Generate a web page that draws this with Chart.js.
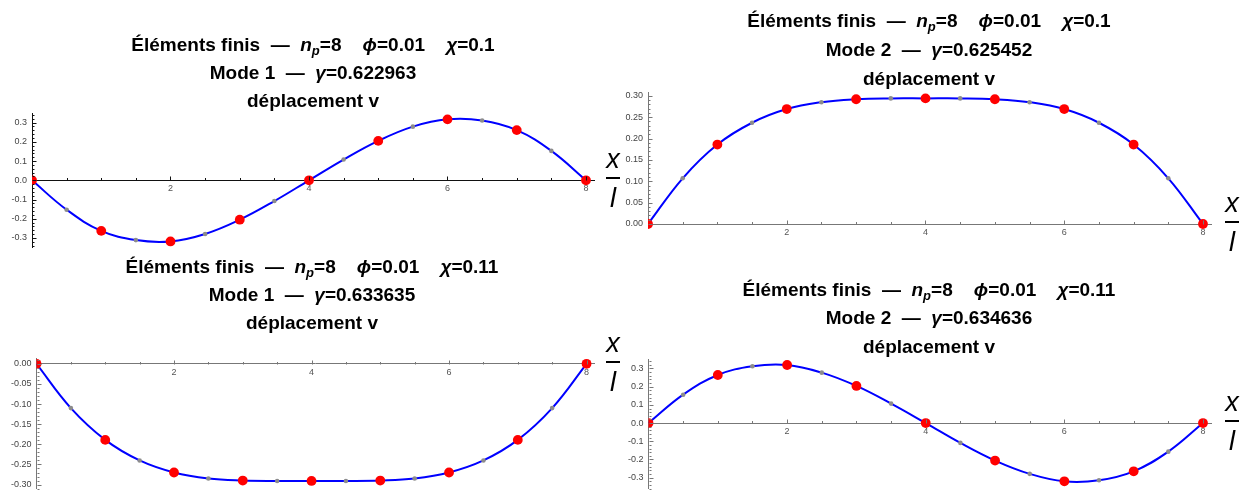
<!DOCTYPE html>
<html>
<head>
<meta charset="utf-8">
<script src="https://cdn.jsdelivr.net/npm/chart.js@4.4.1/dist/chart.umd.min.js"></script>
<style>
body { margin:0; width:1245px; height:499px; overflow:hidden; background:#fff; position:relative; font-family:'Liberation Sans', Arial, sans-serif; }
canvas, .title, .frac { position:absolute; }
.title { width:600px; text-align:center; font-weight:bold; font-size:19px; color:#000; white-space:pre; }
.title sub { font-size:13px; vertical-align:-4px; line-height:0; }
.frac { width:30px; text-align:center; font-style:italic; font-size:27px; color:#000; }
.frac .num { line-height:20px; height:20px; }
.frac .bar { width:14px; height:2px; background:#000; margin:8px auto 8px auto; }
.frac .den { line-height:22px; height:22px; }
</style>
</head>
<body>
<script>
// abscissa of the finite element nodes and of the mid points
var xNodes = [0, 1, 2, 3, 4, 5, 6, 7, 8];
var xMid = [0.5, 1.5, 2.5, 3.5, 4.5, 5.5, 6.5, 7.5];
var xTickLabels = [2, 4, 6, 8];

// chi=0.1, mode 1
var v1Nodes = [0, -0.263, -0.318, -0.205, 0, 0.205, 0.317, 0.261, 0];
var v1Mid = [-0.153, -0.311, -0.279, -0.108, 0.108, 0.279, 0.311, 0.153];
// chi=0.1, mode 2
var v2Nodes = [0, 0.186, 0.269, 0.292, 0.294, 0.292, 0.269, 0.186, 0];
var v2Mid = [0.107, 0.237, 0.285, 0.294, 0.294, 0.285, 0.237, 0.107];
// chi=0.11, mode 1
var v3Nodes = [0, -0.189, -0.270, -0.290, -0.291, -0.290, -0.270, -0.189, 0];
var v3Mid = [-0.110, -0.240, -0.285, -0.291, -0.291, -0.285, -0.240, -0.110];
// chi=0.11, mode 2
var v4Nodes = [0, 0.264, 0.319, 0.204, 0, -0.206, -0.320, -0.265, 0];
var v4Mid = [0.156, 0.312, 0.277, 0.107, -0.109, -0.279, -0.314, -0.157];

var yTicks1 = [-0.3, -0.2, -0.1, 0, 0.1, 0.2, 0.3];
var yTicks2 = [0, 0.05, 0.10, 0.15, 0.20, 0.25, 0.30];
var yTicks3 = [-0.30, -0.25, -0.20, -0.15, -0.10, -0.05, 0];
var yTicks4 = [-0.3, -0.2, -0.1, 0, 0.1, 0.2, 0.3];

var head = 'Éléments finis  —  <i>n</i><sub><i>p</i></sub>=8    <i>ϕ</i>=0.01    <i>χ</i>=';

var panels = [
  { nodes: v1Nodes, mids: v1Mid, yTicks: yTicks1, dec: 1, yMin: -0.35, yMax: 0.35, major: 0.1, step: 0.02,
    area: [32, 113, 594.3, 251], box: [0, 100, 620, 158], axis: '#111',
    title: [head + '0.1', 'Mode 1  —  <i>γ</i>=0.622963', 'déplacement v'], tx: 313, ty: 31, lh: 28, fx: 613 },
  { nodes: v2Nodes, mids: v2Mid, yTicks: yTicks2, dec: 2, yMin: -0.007, yMax: 0.308, major: 0.05, step: 0.01,
    area: [648, 91.7, 1211.3, 227], box: [620, 82, 625, 160], axis: '#777',
    title: [head + '0.1', 'Mode 2  —  <i>γ</i>=0.625452', 'déplacement v'], tx: 929, ty: 6, lh: 29, fx: 1232 },
  { nodes: v3Nodes, mids: v3Mid, yTicks: yTicks3, dec: 2, yMin: -0.31, yMax: 0.0145, major: 0.05, step: 0.01,
    area: [36.5, 358, 594.8, 498.5], box: [0, 345, 620, 154], axis: '#777',
    title: [head + '0.11', 'Mode 1  —  <i>γ</i>=0.633635', 'déplacement v'], tx: 312, ty: 253, lh: 28, fx: 613 },
  { nodes: v4Nodes, mids: v4Mid, yTicks: yTicks4, dec: 1, yMin: -0.36, yMax: 0.352, major: 0.1, step: 0.02,
    area: [648.5, 359, 1211.3, 499], box: [620, 345, 625, 154], axis: '#777',
    title: [head + '0.11', 'Mode 2  —  <i>γ</i>=0.634636', 'déplacement v'], tx: 929, ty: 276, lh: 28.3, fx: 1232 }
];

// small tick marks pointing into the plot, Mathematica style
var minorTicks = {
  id: 'minorTicks',
  afterDraw: function(chart, args, o) {
    var ctx = chart.ctx, sx = chart.scales.x, sy = chart.scales.y;
    var y0 = Math.round(sy.getPixelForValue(0)) + 0.5;
    var xl = Math.round(sx.getPixelForValue(0)) + 0.5;
    ctx.save();
    ctx.strokeStyle = o.color;
    ctx.lineWidth = 1;
    ctx.beginPath();
    for (var v = 0.5; v <= 8.001; v += 0.5) {
      var px = Math.round(sx.getPixelForValue(v)) + 0.5;
      ctx.moveTo(px, y0);
      ctx.lineTo(px, y0 - (v % 2 === 0 ? 4 : 2.5));
    }
    for (var k = Math.ceil(sy.min / o.step - 1e-6); k * o.step <= sy.max + 1e-9; k++) {
      var val = k * o.step;
      var py = Math.round(sy.getPixelForValue(val)) + 0.5;
      var isMajor = Math.abs(val / o.major - Math.round(val / o.major)) < 1e-6;
      ctx.moveTo(xl, py);
      ctx.lineTo(xl + (isMajor ? 4 : 2), py);
    }
    ctx.stroke();
    ctx.restore();
  }
};

var tickFont = { family: "'Liberation Sans', Arial, sans-serif", size: 9 };

panels.forEach(function(p) {
  var cv = document.createElement('canvas');
  cv.width = p.box[2]; cv.height = p.box[3];
  cv.style.left = p.box[0] + 'px'; cv.style.top = p.box[1] + 'px';
  cv.style.width = p.box[2] + 'px'; cv.style.height = p.box[3] + 'px';
  document.body.appendChild(cv);

  var nodePts = xNodes.map(function(x, i) { return { x: x, y: p.nodes[i] }; });
  var midPts = xMid.map(function(x, i) { return { x: x, y: p.mids[i] }; });
  var curve = nodePts.concat(midPts).sort(function(a, b) { return a.x - b.x; });

  var chart = new Chart(cv.getContext('2d'), {
    type: 'scatter',
    data: {
      datasets: [
        { data: nodePts, pointRadius: 4.9, pointBackgroundColor: '#ff0000', pointBorderWidth: 0, clip: { left: 0, top: 0, right: false, bottom: 2 } },
        { data: midPts, pointRadius: 2.3, pointBackgroundColor: '#8c8c8c', pointBorderWidth: 0 },
        { data: curve, showLine: true, borderColor: '#0000ff', borderWidth: 2, tension: 0.4, pointRadius: 0 }
      ]
    },
    options: {
      animation: false,
      responsive: false,
      events: [],
      layout: { padding: {
        left: 0,
        top: p.area[1] - p.box[1],
        right: p.box[0] + p.box[2] - p.area[2],
        bottom: p.box[1] + p.box[3] - p.area[3]
      } },
      plugins: {
        legend: { display: false },
        tooltip: { enabled: false },
        minorTicks: { color: p.axis, step: p.step, major: p.major }
      },
      scales: {
        x: {
          type: 'linear', min: 0, max: 8.12,
          position: { y: 0 },
          afterBuildTicks: function(s) { s.ticks = xTickLabels.map(function(v) { return { value: v }; }); },
          ticks: { font: tickFont, color: '#555', padding: 3, maxRotation: 0, autoSkip: false },
          grid: { drawOnChartArea: false, drawTicks: false },
          border: { color: p.axis, width: 1 }
        },
        y: {
          type: 'linear', min: p.yMin, max: p.yMax,
          afterBuildTicks: function(s) { s.ticks = p.yTicks.map(function(v) { return { value: v }; }); },
          afterFit: function(s) { s.width = p.area[0] - p.box[0]; },
          ticks: { font: tickFont, color: '#444', padding: 5, autoSkip: false,
                   callback: function(v) { return Number(v).toFixed(p.dec); } },
          grid: { drawOnChartArea: false, drawTicks: false },
          border: { color: p.axis, width: 1 }
        }
      }
    },
    plugins: [minorTicks]
  });

  var t = document.createElement('div');
  t.className = 'title';
  t.style.left = (p.tx - 300) + 'px';
  t.style.top = p.ty + 'px';
  t.style.lineHeight = p.lh + 'px';
  t.innerHTML = p.title.join('<br>');
  document.body.appendChild(t);

  // x / l label, bar aligned with the zero line
  var zero = p.box[1] + chart.scales.y.getPixelForValue(0);
  var f = document.createElement('div');
  f.className = 'frac';
  f.style.left = (p.fx - 15) + 'px';
  f.style.top = (zero - 3 - 28) + 'px';
  f.innerHTML = '<div class="num">x</div><div class="bar"></div><div class="den">l</div>';
  document.body.appendChild(f);
});
</script>
</body>
</html>
